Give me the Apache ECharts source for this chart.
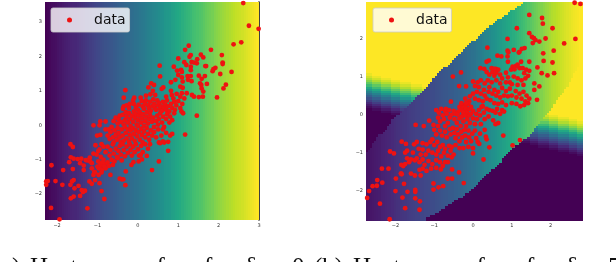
<!DOCTYPE html>
<html><head><meta charset="utf-8">
<style>html,body{margin:0;padding:0;background:#fff;overflow:hidden}#c{width:616px;height:262px}</style>
<script src="https://cdn.jsdelivr.net/npm/echarts@6/dist/echarts.min.js"></script>
</head><body><div id="c"></div>
<script>
const leftTicksX=[-2,-1,0,1,2,3];
const leftTicksY=[-2,-1,0,1,2,3];
const rightTicksX=[-2,-1,0,1,2];
const rightTicksY=[-2,-1,0,1,2];
const viridis=['#440154','#482475','#414487','#355f8d','#2a788e','#21918c','#22a884','#44bf70','#7ad151','#bddf26','#fde725'];

const leftColumnValues=[0,.01,.02,.03,.035,.04,.05,.06,.07,.08,.085,.09,.1,.105,.11,.12,.13,.14,.15,.16,.17,.18,.19,.2,.21,.22,.23,.24,.25,.26,.265,.27,.28,.29,.3,.31,.32,.33,.34,.345,.35,.36,.37,.38,.39,.4,.41,.42,.43,.44,.45,.46,.47,.48,.49,.5,.52,.53,.54,.56,.57,.585,.6,.61,.625,.64,.65,.66,.67,.69,.7,.71,.72,.73,.745,.76,.77,.78,.79,.81,.82,.83,.84,.85,.86,.87,.88,.89,.9,.91,.915,.92,.93,.94,.95,.96,.97,.98,.99,1];
const rightColumnValues=[.05,.055,.06,.065,.07,.075,.08,.09,.095,.1,.105,.11,.12,.13,.14,.145,.15,.155,.16,.17,.175,.18,.185,.19,.195,.2,.205,.21,.215,.22,.225,.23,.24,.245,.25,.26,.265,.27,.28,.285,.29,.3,.305,.31,.32,.33,.34,.35,.36,.37,.38,.395,.41,.42,.435,.45,.46,.475,.49,.5,.515,.53,.545,.56,.57,.585,.6,.61,.62,.635,.65,.665,.68,.695,.71,.725,.74,.755,.77,.785,.8,.81,.825,.84,.85,.865,.88,.89,.9,.91,.92,.93,.94,.95,.96,.97,.98,.985,.99,1];
const bandStart=[73,72,70,69,67,66,64,63,61,60,59,57,56,55,54,53,52,51,49,48,47,46,45,44,43,42,41,40,39,38,36,35,34,33,32,31,31,30,29,28,27,26,25,24,23,22,21,20,19,18,17,16,14,13,12,12,11,10,10,9,8,6,5,5,4,3,3,2,1,0,0,0,0,0,0,0,0,0,0,0,0,0,0,0,0,0,0,0,0,0,0,0,0,0,0,0,0,0,0,0];
const bandEnd=[100,100,100,100,100,100,100,100,100,100,100,100,100,100,100,100,100,100,100,100,100,100,100,100,100,100,100,100,99,99,98,98,97,96,96,95,95,94,94,93,92,92,91,90,89,88,88,87,87,86,85,84,83,82,82,81,80,79,78,78,77,76,75,73,72,71,69,68,67,66,65,64,63,63,62,61,60,58,57,56,55,54,53,52,51,50,49,48,46,45,43,41,40,38,37,35,34,32,30,28];
const outsideFade=[1,.97,.93,.88,.82,.75,.68,.6,.52,.44,.37,.3,.24,.18,.12,.07,.03,0];

const leftPoints=[[2.61,3.55],[2.75,2.89],[2.99,2.8],[2.56,2.41],[2.37,2.35],[1.26,2.31],[1.17,2.19],[1.81,2.19],[2.08,2.04],[1.56,2.05],[1.31,2.04],[1.28,1.99],[1.62,1.97],[1.47,1.92],[1,1.94],[2.1,1.82],[2.1,1.78],[1.33,1.84],[1.39,1.82],[1.15,1.83],[.54,1.73],[.89,1.7],[1.2,1.75],[1.46,1.8],[1.67,1.72],[1.69,1.72],[1.92,1.67],[1.87,1.63],[1.85,1.57],[1.31,1.7],[1.31,1.6],[.97,1.59],[1.07,1.61],[1.09,1.55],[2.04,1.49],[2.32,1.55],[1.66,1.43],[1.51,1.44],[1.23,1.43],[1.31,1.43],[1.58,1.35],[.55,1.42],[1,1.46],[1.09,1.39],[.93,1.32],[1.24,1.32],[1.33,1.28],[1.11,1.27],[.82,1.25],[1.54,1.22],[1.57,1.17],[1.71,1.2],[2.18,1.18],[2.12,1.07],[.33,1.22],[.4,1.17],[.26,1.1],[.63,1.1],[.59,1.06],[1.05,1.12],[1.11,1.09],[1.58,1.07],[1.62,.98],[-.31,1.02],[.37,1],[.82,1],[1.09,.93],[1.21,.93],[1.34,.88],[1.39,.83],[1.51,.82],[1.61,.83],[1.96,.81],[-.35,.8],[-.09,.8],[.07,.8],[.2,.86],[.31,.9],[.43,.88],[.7,.83],[.84,.88],[.96,.91],[1.05,.83],[1.15,.78],
[-.35,.55],[-.37,.48],[-.28,.58],[-.2,.62],[-.22,.5],[-.12,.72],[-.1,.62],[-.05,.52],[0,.45],[.02,.6],[.1,.7],[.12,.55],[.15,.48],[.18,.62],[.2,.72],[.25,.58],[.27,.5],[.3,.68],[.32,.42],[.35,.55],[.38,.75],[.4,.62],[.42,.5],[.45,.45],[.48,.72],[.5,.58],[.52,.65],[.55,.48],[.58,.55],[.6,.42],[.62,.68],[.65,.52],[.68,.6],[.7,.45],[.72,.72],[.75,.55],[.78,.4],[.82,.62],[.85,.5],[.88,.78],[.9,.68],[.92,.45],[.95,.58],[1,.7],[1.05,.5],[1.08,.4],[1.1,.62],[1.12,.35],[1.46,.28],
[-.6,.12],[-.55,.22],[-.5,.05],[-.48,.18],[-.45,.28],[-.42,.1],[-.38,.3],[-.35,.02],[-.32,.15],[-.3,.38],[-.28,.25],[-.25,.08],[-.22,.35],[-.2,.18],[-.18,-.02],[-.15,.28],[-.12,.1],[-.1,.4],[-.08,.22],[-.05,.32],[-.03,.02],[0,.15],[.02,.28],[.05,.38],[.08,.08],[.1,.2],[.12,.32],[.15,-.02],[.18,.12],[.2,.25],[.22,.38],[.25,.05],[.28,.18],[.3,.3],[.35,.1],[.38,.22],[.4,-.05],[.45,.12],[.48,.28],[.5,.02],[.52,.18],[.55,.35],[.6,.08],[.62,.25],[.65,-.05],[.7,.18],[.72,.32],[.78,.08],[.8,.25],[.85,.15],[.9,.35],
[-1.1,0],[-.93,.11],[-.8,.11],[-.93,-.28],[-1.01,-.3],[-.8,-.12],[-.95,0],[-.75,-.3],[-.72,-.12],[-.7,-.4],[-.68,-.2],[-.65,-.05],[-.62,-.35],[-.6,-.5],[-.58,-.15],[-.55,-.28],[-.52,-.42],[-.5,-.08],[-.48,-.22],[-.45,-.35],[-.42,-.5],[-.4,-.12],[-.38,-.3],[-.35,-.45],[-.32,-.05],[-.3,-.22],[-.28,-.38],[-.25,-.12],[-.22,-.48],[-.2,-.28],[-.18,-.15],[-.15,-.38],[-.12,-.08],[-.1,-.25],[-.08,-.45],[-.05,-.15],[-.02,-.32],[0,-.02],[.02,-.2],[.05,-.42],[.08,-.1],[.1,-.28],[.12,-.5],[.15,-.18],[.18,-.35],[.22,-.08],[.25,-.25],[.28,-.42],[.32,-.15],[.35,-.3],[.4,-.2],[.45,-.35],[.5,-.12],[.52,-.5],[.58,-.3],[.62,-.12],[.65,-.5],[.7,-.22],[.75,-.48],[.8,-.3],[.85,-.25],[.62,-.47],[1.17,-.27],
[-1.05,-.58],[-.95,-.7],[-.9,-.55],[-.85,-.62],[-.8,-.78],[-.75,-.62],[-.7,-.88],[-.68,-.72],[-.62,-.55],[-.6,-.82],[-.55,-.68],[-.52,-.92],[-.48,-.75],[-.45,-.6],[-.42,-.85],[-.38,-.55],[-.35,-.72],[-.32,-.9],[-.28,-.62],[-.25,-.8],[-.2,-.55],[-.18,-.72],[-.15,-.88],[-.12,-.62],[-.08,-.78],[-.05,-.55],[0,-.7],[.03,-.88],[.08,-.6],[.12,-.78],[.18,-.55],[.25,-.68],[.3,-.55],[.55,-.52],[.75,-.74],
[-1.25,-1.02],[-1.18,-1.05],[-1.1,-.82],[-1.02,-.85],[-.98,-.75],[-.92,-.92],[-1.08,-1.35],[-1,-1.2],[-.98,-1.05],[-.92,-1.15],[-.9,-1.28],[-.85,-1],[-.82,-1.12],[-.8,-1.25],[-.75,-1.08],[-.72,-1.18],[-.65,-1],[-.62,-1.15],[-.58,-1.05],[-.5,-.95],[-.4,-1.02],[-.68,-1.44],[-.45,-1.55],[-.4,-1.57],[-.36,-1.57],[-.31,-1.74],[-.3,-1.34],[-.16,-1.15],[-.11,-1.07],[.02,-1.05],[.1,-.99],[.22,-.89],[.07,-.86],[.52,-1.05],[.35,-1.3],
[-2.14,-1.16],[-1.85,-1.3],[-1.61,-1.27],[-1.7,-1.07],[-1.67,-.55],[-1.61,-.63],[-1.66,-.93],[-1.59,-.97],[-1.49,-.98],[-1.4,-.97],[-1.29,-1.01],[-1.19,-.94],[-1.43,-1.1],[-1.34,-1.17],[-1.34,-1.3],[-2.27,-1.63],[-2.23,-1.62],[-2.27,-1.73],[-2.04,-1.62],[-1.87,-1.73],[-1.67,-1.73],[-1.63,-1.63],[-1.59,-1.59],[-1.47,-1.76],[-1.57,-1.83],[-1.39,-1.88],[-1.31,-1.9],[-1.36,-1.94],[-1.43,-2.05],[-1.59,-2.07],[-1.66,-2.12],[-2.15,-2.4],[-1.94,-2.73],[-1.25,-2.41],[-.83,-2.14],[-.9,-1.91],[-1.2,-1.63],[-1.14,-1.7],[-1.06,-1.59],[-.95,-1.68],[-1.1,-1.44],[-1.06,-1.37],[-1.14,-1.25],[-1.14,-1.1],[-.93,-1.1],[-.87,-1.08],[-.83,-1.2],[-.89,-1.3],[-.9,-1.37],[-.97,-1.44],[-.97,-1.25]];

const rightPoints=[[2.62,2.94],[2.77,2.91],[1.45,2.62],[1.78,2.54],[1.8,2.39],[1.13,2.27],[2.05,2.27],[1.45,2.14],[1.52,2.04],[1.57,2.01],[1.61,1.96],[1.71,1.92],[1.87,2],[.89,1.99],[2.64,1.99],[2.35,1.87],[1.54,1.88],[.37,1.76],[1.33,1.75],[1.26,1.73],[1.2,1.65],[1.18,1.63],[1.05,1.7],[.89,1.68],[.91,1.64],[2.08,1.68],[1.81,1.61],[.63,1.55],[.73,1.53],[.89,1.53],[.41,1.42],[.35,1.39],[.9,1.39],[1.45,1.39],[1.24,1.39],[1.82,1.41],[2.05,1.37],[1.66,1.24],[.19,1.22],[.29,1.2],[.48,1.22],[.59,1.2],[1.02,1.26],[1.11,1.28],[1.2,1.22],[1.28,1.22],[1.37,1.18],[1.45,1.15],[.98,1.18],[1.07,1.19],[1.15,1.31],[1.32,1.09],[-.31,1.11],[-.52,1],[1.77,1.09],[1.92,1.03],[2.09,1.09],[1.58,.82],[1.71,.74],[1.58,.65],[1.65,.39],[-.36,.75],[-.18,.74],[0,.87],[-.57,.34],[-1.48,-.27],[-1.27,-.3],[-1.13,-.16],[-1.02,-.27],[.78,-.55],[1.02,-.81],[1.21,-.67],
[.35,1.12],[.42,1.05],[.5,1.12],[.55,1.02],[.6,1.1],[.65,1.18],[.7,1.05],[.55,1.2],[.75,.95],[.85,1.1],[.9,.98],[.95,.85],[1.05,1],[1.15,.95],[1.25,.9],[1.35,.95],[1.42,1.02],[1.3,.78],[1.15,.78],[1,.8],[.85,.85],[.7,.82],[.6,.9],[.48,.85],[.38,.9],[.3,.82],[.2,.9],[.12,.85],[.05,.75],[.15,.72],[.28,.65],[.42,.72],
[.55,.65],[.65,.6],[.75,.7],[.85,.62],[.95,.68],[1.1,.62],[1.2,.55],[1.3,.6],[1.38,.5],[1.45,.42],[1.35,.35],[1.25,.42],[1.12,.45],[1,.5],[.9,.48],[.8,.5],[.7,.45],[.6,.5],[.5,.55],[.4,.6],[.3,.5],[.2,.55],[.1,.6],[0,.55],[-.08,.48],[.05,.42],[.15,.38],[.25,.35],[.35,.42],[.45,.38],[.55,.3],[.65,.28],[.75,.32],[.85,.25],[1,.3],[1.12,.28],[1.22,.22],[1.32,.25],[1.42,.3],[-.1,.35],[-.2,.42],
[-.35,.2],[-.3,.12],[-.28,.25],[-.25,.18],[-.22,.1],[-.2,.22],[-.18,.15],[-.15,.05],[-.12,.28],[-.1,.15],[-.25,.05],[-.3,.3],[-.18,.3],[-.05,.2],[-.38,.08],
[-.95,.12],[-.88,.05],[-.82,.15],[-.78,-.02],[-.72,.1],[-.68,.02],[-.62,.12],[-.6,-.08],[-.55,0],[-.5,.1],[-.48,-.12],[-.45,.02],[-.42,-.22],[-.4,0],[-.35,-.1],[-.32,-.3],[-.28,-.05],[-.25,-.18],[-.2,-.02],[-.18,-.3],[-.15,-.12],[-.1,-.02],[-.08,-.22],[-.05,.02],[0,-.1],[0,.1],[.05,-.25],[.08,.02],[.1,-.12],[.15,.12],[.18,-.02],[.2,-.25],[.22,.2],[.28,.05],[.3,-.12],[.35,.15],[.4,-.05],[.42,.12],[.5,.1],[.52,-.15],[.58,.05],[.62,.15],[.7,.02],[.65,-.22],[.75,.12],[.8,.08],[.58,-.25],[.25,.22],[-.7,.15],[-.9,-.08],[-.85,-.18],[-.75,-.12],[-.65,-.22],[-.72,-.3],
[-1,-.4],[-.9,-.3],[-.85,-.42],[-.95,-.52],[-.8,-.55],[-.72,-.45],[-.68,-.6],[-.6,-.38],[-.58,-.52],[-.52,-.35],[-.48,-.48],[-.45,-.62],[-.42,-.38],[-.38,-.52],[-.35,-.7],[-.3,-.45],[-.28,-.6],[-.22,-.4],[-.2,-.55],[-.18,-.72],[-.12,-.42],[-.1,-.6],[-.05,-.7],[-.02,-.5],[.05,-.42],[.08,-.62],[.12,-.72],[.18,-.5],[.3,-.4],[.35,-.65],[.33,-.58],[.16,-.77],[.42,-.86],[.27,-1.18],[0,-1.02],[-1.3,-.75],[-1.2,-.78],[-1.1,-.72],[-1.05,-.65],[-1,-.8],[-.92,-.72],[-.85,-.85],[-.78,-.8],[-.72,-.9],[-.62,-.82],[-.55,-.85],[-.45,-.8],[-.35,-.88],[-.25,-.88],[-.12,-.85],[0,-.88],[-1.45,-.72],[-1.52,-.78],
[-1.84,-.71],[-1.73,-.77],[-2.14,-.97],[-2.04,-1.02],[-1.75,-1],[-1.7,-.95],[-1.55,-1],[-1.4,-.9],[-1.35,-1.05],[-1.3,-.92],[-1.22,-1.05],[-1.15,-.95],[-1.05,-1],[-.95,-1.05],[-.9,-.95],[-.82,-1.1],[-.75,-1],[-.65,-1.08],[-.55,-1.12],[-.5,-1.05],[-.58,-.95],[-1.7,-1.15],[-1.6,-1.18],[-1.5,-1.2],[-1.45,-1.15],[-1.38,-1.25],[-1.3,-1.18],[-1.25,-1.32],[-1.15,-1.22],[-1.05,-1.3],[-.95,-1.2],[-.85,-1.25],[-.72,-1.25],[-.65,-1.25],[-.78,-1.35],[-.95,-1.4],[-1.08,-1.42],[-1.2,-1.48],[-1.3,-1.42],[-1.38,-1.45],[-1.5,-1.6],[-1.85,-1.32],[-1.8,-1.35],[-1.75,-1.3],[-1.65,-1.25],[-1.85,-1.55],[-1.6,-1.55],[-1.35,-1.6],[-2.35,-1.42],[-2.18,-1.42],[-2.47,-1.72],[-2.59,-1.88],[-2.48,-1.87],[-2.34,-1.79],[-2.68,-2.01],[-2,-2.01],[-2.73,-2.19],[-2.4,-2.34],[-2.15,-2.75],[-1.75,-2.46],[-1.82,-2.18],[-1.69,-2.03],[-1.78,-1.82],[-1.99,-1.68],[-1.86,-1.55],[-1.84,-1.57],[-1.49,-1.98],[-1.49,-2.03],[-1.49,-2.2],[-1.37,-2.28],[-1.38,-2.5],[-1.02,-1.81],[-1.02,-1.97],[-.89,-1.91],[-.77,-1.88],[-.24,-1.8],[-.36,-1.52],[-.54,-1.44],[-.54,-1.68],[-.65,-1.68],[-.83,-1.44]];

const captionPieces=[[')',12],['Heatmap',30],['of',144],['f',204],['δ',245],['0',292],['(b)',314],['Heatmap',353],['of',464],['f',526],['δ',566],['5',608]];

const colIds=rightColumnValues.map((_,i)=>i);
const rowIds=bandStart.map((_,i)=>i);
const leftCells=leftColumnValues.map((v,c)=>[c,0,v]);
const rightCells=[];
rowIds.forEach(r=>colIds.forEach(c=>{
  let v;
  if(c>=bandStart[r]&&c<bandEnd[r]) v=rightColumnValues[c];
  else{const i=Math.round(r-0.22*c)-32; v=i<0?1:(i>=outsideFade.length?0:outsideFade[i]);}
  rightCells.push([c,r,v]);
}));

const minus=v=>String(v).replace('-','\u2212');
const tickStyle={show:true,length:2,lineStyle:{color:'#333',width:.6}};
function valX(idx,min,max,ticks){return {type:'value',gridIndex:idx,min,max,splitLine:{show:false},axisLine:{show:false},
  axisTick:{...tickStyle,customValues:ticks},axisLabel:{fontSize:5,color:'#333',margin:3,fontFamily:'DejaVu Sans',customValues:ticks,formatter:minus}};}
function legend(left){return {data:['data'],left,top:8,orient:'horizontal',padding:[5,4,5,16],icon:'circle',itemWidth:5,itemHeight:5,itemGap:0,
  backgroundColor:'rgba(255,255,255,0.8)',borderColor:'#ccc',borderWidth:.8,borderRadius:2,
  textStyle:{fontFamily:'DejaVu Sans',fontSize:14,color:'#111',padding:[0,0,0,17]}};}
const scatterStyle={type:'scatter',name:'data',symbol:'circle',symbolSize:4.8,z:3,itemStyle:{color:'#ee1212',opacity:1},emphasis:{disabled:true},silent:true};
function cellShape(params,api){
  const p=api.coord([api.value(0),api.value(1)]);
  const s=api.size([1,1]);
  const x=Math.floor(p[0]-s[0]/2), y=Math.floor(p[1]-s[1]/2);
  return {type:'rect',shape:{x,y,width:Math.ceil(s[0])+1,height:Math.ceil(s[1])+1},style:{fill:api.visual('color')}};
}

const option={animation:false,backgroundColor:'#fff',
 grid:[{left:45,top:2,width:214,height:218},{left:45,top:2,width:214,height:218},{left:366,top:2,width:216,height:218},{left:366,top:2,width:216,height:218}],
 xAxis:[valX(0,-2.3,3,leftTicksX),{type:'category',gridIndex:1,show:false,data:leftColumnValues.map((_,i)=>i)},valX(2,-2.76,2.81,rightTicksX),{type:'category',gridIndex:3,show:false,data:colIds}],
 yAxis:[valX(0,-2.75,3.58,leftTicksY),{type:'category',gridIndex:1,show:false,data:[0]},valX(2,-2.77,2.96,rightTicksY),{type:'category',gridIndex:3,show:false,inverse:true,data:rowIds},
  {type:'value',gridIndex:0,position:'right',min:-2.75,max:3.58,splitLine:{show:false},axisTick:{show:false},axisLabel:{show:false},axisLine:{show:true,onZero:false,lineStyle:{color:'#000',width:1.5}}}],
 visualMap:{show:false,min:0,max:1,dimension:2,seriesIndex:[0,1],inRange:{color:viridis}},
 legend:[legend(51),legend(373)],
 series:[
  {type:'custom',name:'fieldA',xAxisIndex:1,yAxisIndex:1,data:leftCells,z:1,clip:true,silent:true,renderItem:cellShape,encode:{x:0,y:1}},
  {type:'custom',name:'fieldB',xAxisIndex:3,yAxisIndex:3,data:rightCells,z:1,clip:true,silent:true,renderItem:cellShape,encode:{x:0,y:1}},
  {...scatterStyle,xAxisIndex:0,yAxisIndex:0,data:leftPoints},
  {...scatterStyle,xAxisIndex:2,yAxisIndex:2,data:rightPoints}
 ],
 graphic:captionPieces.map(([t,x])=>({type:'text',x,y:256,silent:true,style:{text:t,fill:'#111',font:'25px "Liberation Serif"',verticalAlign:'top'}}))
};
const chart=echarts.init(document.getElementById('c'),null,{renderer:'canvas'});
chart.setOption(option);
</script></body></html>
